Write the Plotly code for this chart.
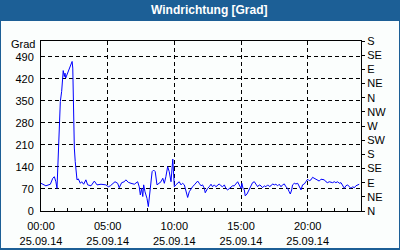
import plotly.graph_objects as go

DAY = "2014-09-25"
times = ["00:00","00:22","00:42","00:53","01:00","01:07","01:12","01:15","01:20","01:27",
         "01:33","01:38","01:40","01:45","01:48","01:51","01:57","02:07","02:20","02:23",
         "02:27","02:30","02:34","02:42","02:48","02:57","03:03","03:12","03:22","03:30",
         "03:45","04:00","04:12","04:30","04:52","05:03","05:12","05:23","05:33","05:45",
         "05:52","06:03","06:15","06:22","06:33","06:45","07:00","07:15","07:22","07:27",
         "07:33","07:38","07:42","07:48","07:57","08:03","08:07","08:12","08:20","08:27",
         "08:34","08:42","08:50","09:00","09:08","09:15","09:22","09:30","09:37","09:45",
         "09:53","09:57","10:00","10:07","10:15","10:22","10:30","10:37","10:45","10:52",
         "11:00","11:07","11:15","11:22","11:30","11:37","11:45","11:52","12:00","12:07",
         "12:15","12:19","12:24","12:30","12:37","12:45","12:52","13:00","13:07","13:15",
         "13:22","13:30","13:37","13:45","13:52","14:00","14:07","14:15","14:22","14:30",
         "14:37","14:45","14:52","15:00","15:04","15:09","15:15","15:19","15:27","15:35",
         "15:45","15:52","16:00","16:07","16:15","16:22","16:30","16:37","16:45","16:52",
         "17:00","17:07","17:15","17:22","17:30","17:37","17:45","17:52","18:00","18:07",
         "18:15","18:22","18:30","18:37","18:42","18:48","18:52","19:00","19:07","19:15",
         "19:22","19:30","19:37","19:45","19:52","20:00","20:07","20:15","20:22","20:30",
         "20:37","20:45","20:52","21:00","21:07","21:15","21:22","21:30","21:37","21:45",
         "21:52","22:00","22:07","22:15","22:22","22:30","22:37","22:45","22:52","23:00",
         "23:07","23:15","23:22","23:30","23:37","23:45","23:52"]
direction = [88,80,85,104,109,93,72,136,252,348,
             380,422,446,427,438,422,433,449,475,454,
             295,200,157,99,102,88,93,85,99,83,
             80,95,83,85,83,77,80,88,93,88,
             74,90,93,99,91,88,85,93,77,51,
             72,46,83,61,40,14,40,93,125,130,
             125,83,88,93,104,88,109,141,125,93,
             165,83,77,83,88,93,83,88,83,61,
             43,61,72,77,83,88,95,88,80,83,
             72,58,67,72,77,85,77,83,77,83,
             86,80,77,83,72,67,72,77,80,80,
             88,93,83,72,88,72,67,48,54,65,
             77,90,93,86,77,83,80,74,80,77,
             83,78,80,86,83,85,80,85,77,83,
             86,77,72,61,54,67,83,88,86,88,
             77,67,83,86,93,101,96,99,107,104,
             101,99,95,101,99,99,93,90,93,91,
             90,93,90,93,88,90,83,72,80,83,
             77,72,77,74,80,82,85]

left_ticks = [0, 70, 140, 210, 280, 350, 420, 490]
right_tickvals = [0, 45, 90, 135, 180, 225, 270, 315, 360, 405, 450, 495, 540]
right_ticktext = ["N", "NE", "E", "SE", "S", "SW", "W", "NW", "N", "NE", "E", "SE", "S"]
title_text = "Windrichtung [Grad]"
unit_text = "Grad"

x = [f"{DAY} {t}" for t in times]

W, H = 400, 250
ML, MR, MT, MB = 41, 39, 41, 39
PW, PH = W - ML - MR, H - MT - MB
def px(xp):
    return (xp - ML) / PW
def py(yp):
    return (H - MB - yp) / PH

BLUE = "#1c5f96"
BG = "#fbfefd"
FONT = "Liberation Sans"

fig = go.Figure()
fig.add_trace(go.Scatter(x=x, y=direction, mode="lines",
                         line=dict(color="#0000ff", width=1), hoverinfo="skip",
                         showlegend=False))
fig.add_trace(go.Scatter(x=x, y=direction, mode="lines", yaxis="y2",
                         line=dict(color="rgba(0,0,0,0)", width=0), hoverinfo="skip",
                         showlegend=False))

fig.update_layout(
    width=W, height=H, autosize=False,
    margin=dict(l=ML, r=MR, t=MT, b=MB, pad=0, autoexpand=False),
    paper_bgcolor=BLUE, plot_bgcolor=BG,
    font=dict(family=FONT, size=11, color="black"),
    xaxis=dict(type="date", range=[f"{DAY} 00:00", "2014-09-26 00:00"],
               tick0=f"{DAY} 00:00", dtick=5*3600000,
               tickformat="%H:%M<br>%d.%m.%y",
               showgrid=True, gridcolor="black", griddash="4px,3px", gridwidth=1,
               showline=True, linecolor="black", linewidth=1, mirror=True,
               ticks="inside", ticklen=3, tickcolor="black", ticklabelstandoff=5,
               minor=dict(dtick=3600000, ticks="inside", ticklen=3, tickcolor="black",
                          showgrid=False),
               zeroline=False, fixedrange=True, automargin=False),
    yaxis=dict(range=[0, 540], tickvals=left_ticks,
               showgrid=True, gridcolor="black", griddash="4px,3px", gridwidth=1,
               showline=True, linecolor="black", linewidth=1, mirror=True,
               ticks="", ticklabelstandoff=4, zeroline=False, fixedrange=True,
               automargin=False),
    yaxis2=dict(range=[0, 540], overlaying="y", side="right",
                tickvals=right_tickvals, ticktext=right_ticktext,
                showgrid=False, showline=True, linecolor="black", linewidth=1,
                ticks="outside", ticklen=3, tickcolor="black",
                zeroline=False, fixedrange=True, automargin=False),
    shapes=[dict(type="rect", xref="paper", yref="paper", layer="below",
                 x0=px(1), x1=px(399), y0=py(248), y1=py(21),
                 fillcolor=BG, line=dict(width=0))],
    annotations=[
        dict(text="<b>" + title_text + "</b>", xref="paper", yref="paper",
             x=px(209), y=py(10.5), xanchor="center", yanchor="middle",
             showarrow=False, font=dict(family=FONT, size=12, color="white")),
        dict(text=unit_text, xref="paper", yref="paper",
             x=px(37), y=py(44), xanchor="right", yanchor="middle",
             showarrow=False, font=dict(family=FONT, size=11, color="black")),
    ],
)

fig.write_html("out.html", config={"displayModeBar": False})
